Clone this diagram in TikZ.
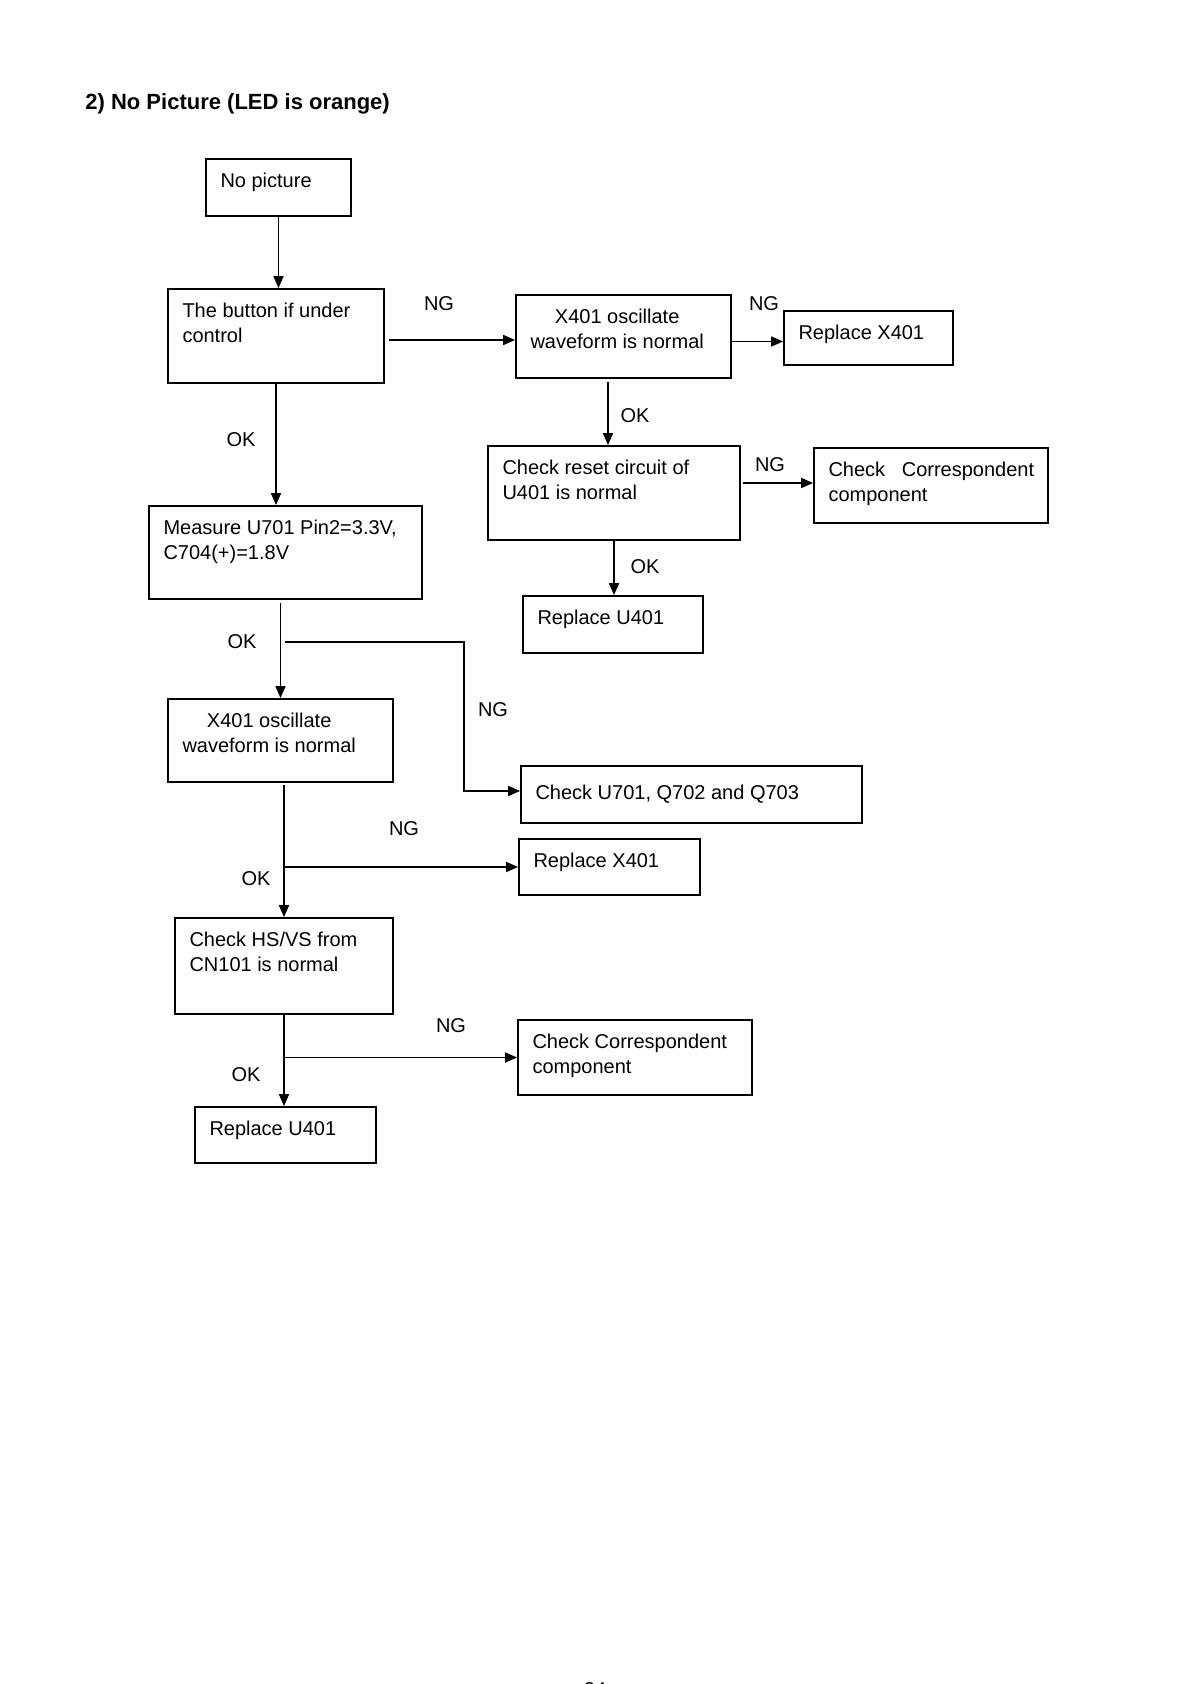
\documentclass[tikz,border=0pt]{standalone}
\usepackage{fontspec}
\setmainfont{Liberation Sans}
\usetikzlibrary{arrows.meta}

\begin{document}
\begin{tikzpicture}[x=0.5pt,y=-0.5pt]
\tikzstyle{vertex}=[rectangle, draw=black, line width=0.9pt, inner sep=0pt]
\tikzstyle{txt}=[anchor=north west, inner sep=0pt, align=left, font=\fontsize{10}{12.4}\selectfont]
\tikzstyle{tag}=[inner sep=0pt, font=\fontsize{10}{12}\selectfont]
\tikzstyle{arr}=[line width=0.85pt, -{Triangle[length=6pt,width=5pt]}]

\useasboundingbox (0,0) rectangle (1191,1684);

% Title
\node[anchor=base west, inner sep=0pt, font=\bfseries\fontsize{11}{13}\selectfont] (title) at (85,110) {2) No Picture (LED is orange)};

% Start
\node[vertex, minimum width=72.5pt, minimum height=28.5pt] (b0) at (278.5,187.5) {};
\node[txt] (t0) at ([shift={(7.5pt,-7.3pt)}]b0.north west) {No picture};

% First check and its NG branch
\node[vertex, minimum width=108pt, minimum height=47pt] (b1) at (276,336) {};
\node[txt] (t1) at ([shift={(7.5pt,-7.3pt)}]b1.north west) {The button if under\\control};
\node[vertex, minimum width=107.5pt, minimum height=41.5pt] (b2) at (623.5,336.5) {};
\node[txt, align=center] (t2) at ([shift={(7.5pt,-7.3pt)}]b2.north west) {X401 oscillate\\waveform is normal};
\node[vertex, minimum width=84.5pt, minimum height=27pt] (b3) at (868.5,338) {};
\node[txt] (t3) at ([shift={(7.5pt,-7.3pt)}]b3.north west) {Replace X401};
\node[vertex, minimum width=126pt, minimum height=47pt] (b4) at (614,493) {};
\node[txt] (t4) at ([shift={(7.5pt,-7.3pt)}]b4.north west) {Check reset circuit of\\U401 is normal};
\node[vertex, minimum width=117pt, minimum height=37.5pt] (b5) at (931,485.5) {};
\node[txt] (t5) at ([shift={(7.5pt,-7.3pt)}]b5.north west) {Check~~~Correspondent\\component};
\node[vertex, minimum width=90pt, minimum height=28.5pt] (b6) at (613,624.5) {};
\node[txt] (t6) at ([shift={(7.5pt,-7.3pt)}]b6.north west) {Replace U401};

% Main column
\node[vertex, minimum width=136.5pt, minimum height=46.5pt] (b7) at (285.5,552.5) {};
\node[txt] (t7) at ([shift={(7.5pt,-7.3pt)}]b7.north west) {Measure U701 Pin2=3.3V,\\C704(+)=1.8V};
\node[vertex, minimum width=112.5pt, minimum height=41.5pt] (b8) at (280.5,740.5) {};
\node[txt, align=center] (t8) at ([shift={(7.5pt,-7.3pt)}]b8.north west) {X401 oscillate\\waveform is normal};
\node[vertex, minimum width=170.5pt, minimum height=28.5pt] (b9) at (691.5,794.5) {};
\node[txt] (t9) at ([shift={(7.5pt,-9.8pt)}]b9.north west) {Check U701, Q702 and Q703};
\node[vertex, minimum width=90.5pt, minimum height=28pt] (b10) at (609.5,867) {};
\node[txt] (t10) at ([shift={(7.5pt,-7.3pt)}]b10.north west) {Replace X401};
\node[vertex, minimum width=109pt, minimum height=48pt] (b11) at (284,966) {};
\node[txt] (t11) at ([shift={(7.5pt,-7.3pt)}]b11.north west) {Check HS/VS from\\CN101 is normal};
\node[vertex, minimum width=117pt, minimum height=37.5pt] (b12) at (635,1057.5) {};
\node[txt] (t12) at ([shift={(7.5pt,-7.3pt)}]b12.north west) {Check Correspondent\\component};
\node[vertex, minimum width=90.5pt, minimum height=28pt] (b13) at (285.5,1135) {};
\node[txt] (t13) at ([shift={(7.5pt,-7.3pt)}]b13.north west) {Replace U401};

% Branch points
\coordinate (j1) at (285,642);
\coordinate (c1) at (464,642);
\coordinate (j2) at (b11.north |- b10.west);
\coordinate (j3) at (b11.south |- b12.west);

% Connect nodes
\draw[arr] (b0.south) -- (b0.south |- b1.north);
\draw[arr] ([xshift=2pt,yshift=-2pt]b1.east) -- ([yshift=-2pt]b1.east -| b2.west);
\draw[arr] ([yshift=-2.5pt]b2.east) -- ([yshift=-2.5pt]b2.east -| b3.west);
\draw[arr] ([xshift=-3pt,yshift=-1.5pt]b4.north |- b2.south) -- ([xshift=-3pt]b4.north);
\draw[arr] ([xshift=1pt,yshift=5pt]b4.east) -- ([yshift=5pt]b4.east -| b5.west);
\draw[arr] (b4.south) -- (b4.south |- b6.north);

\draw[arr] (b1.south) -- (b1.south |- b7.north);
\draw[arr] ([yshift=-1.5pt]b8.north |- b7.south) -- (b8.north);
\draw[arr] (j1) -- (c1) |- ([yshift=1.75pt]b9.west);
\draw[arr] ([yshift=-1pt]b11.north |- b8.south) -- (b11.north);
\draw[arr] (j2) -- (b10.west);
\draw[arr] (b11.south) -- (b11.south |- b13.north);
\draw[arr] (j3) -- (b12.west);

% Labels
\node[tag] (ng1) at (439,304) {NG};
\node[tag] (ng2) at (764,304) {NG};
\node[tag] (ok1) at (635,416) {OK};
\node[tag] (ng3) at (770,465) {NG};
\node[tag] (ok2) at (645,567) {OK};
\node[tag] (ok3) at (241,440) {OK};
\node[tag] (ok4) at (242,642) {OK};
\node[tag] (ng4) at (493,710) {NG};
\node[tag] (ng5) at (404,829) {NG};
\node[tag] (ok5) at (256,879) {OK};
\node[tag] (ok6) at (246,1075) {OK};
\node[tag] (ng6) at (451,1026) {NG};

% Page number
\node[tag] (page) at (595,1689) {24};
\end{tikzpicture}
\end{document}
